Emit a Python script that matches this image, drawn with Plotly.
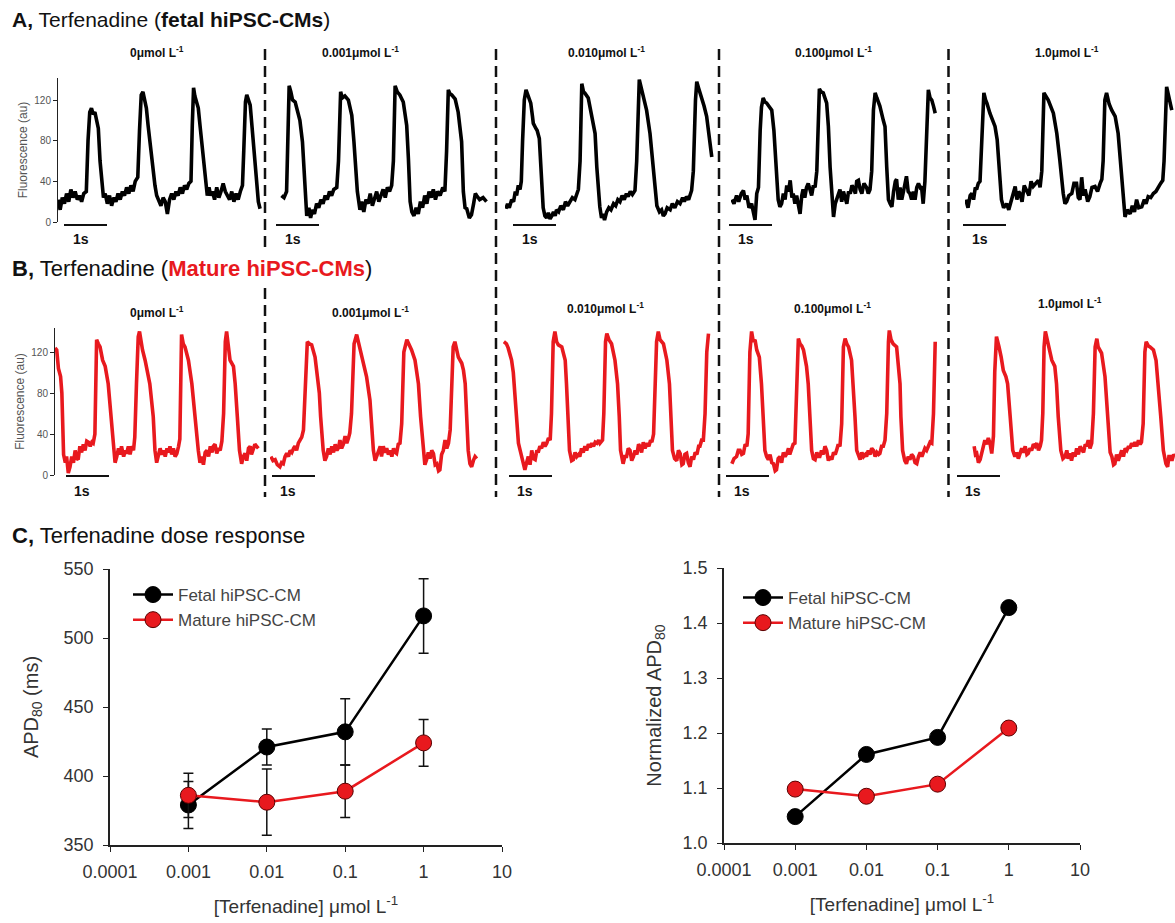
import plotly.graph_objects as go

W, H = 1175, 923

# ---------------- Panel A: fetal hiPSC-CM optical APs (time s, fluorescence au) ----------------
FETAL_0 = [(0.00,22),(0.05,12),(0.10,24),(0.15,18),(0.20,28),(0.25,20),(0.30,32),(0.35,24),(0.40,30),(0.45,22),
           (0.50,26),(0.55,20),(0.60,28),(0.66,30),(0.70,80),(0.74,108),(0.78,112),(0.82,106),(0.86,108),(0.90,100),
           (0.94,92),(0.98,60),(1.02,36),(1.06,24),(1.10,28),(1.15,18),(1.20,26),(1.25,16),(1.30,24),(1.35,20),
           (1.40,28),(1.45,22),(1.50,30),(1.55,26),(1.60,34),(1.65,28),(1.70,36),(1.75,30),(1.80,40),(1.86,44),
           (1.90,90),(1.94,125),(1.98,128),(2.02,118),(2.06,112),(2.10,95),(2.14,79),(2.18,60),(2.22,45),(2.26,36),
           (2.30,26),(2.35,20),(2.40,16),(2.45,24),(2.50,20),(2.55,8),(2.60,22),(2.65,28),(2.70,22),(2.75,30),
           (2.80,26),(2.85,34),(2.90,28),(2.95,36),(3.00,32),(3.05,38),(3.10,40),(3.13,95),(3.16,132),(3.19,124),
           (3.23,118),(3.27,112),(3.31,95),(3.35,79),(3.40,55),(3.44,38),(3.48,26),(3.52,34),(3.56,26),(3.60,30),
           (3.65,22),(3.70,34),(3.75,24),(3.80,30),(3.85,38),(3.90,30),(3.95,26),(4.00,22),(4.05,30),(4.10,20),
           (4.15,28),(4.20,22),(4.25,30),(4.30,36),(4.33,70),(4.37,118),(4.40,125),(4.44,120),(4.48,115),(4.52,95),
           (4.55,79),(4.59,55),(4.63,33),(4.67,20),(4.71,13)]
FETAL_0001 = [(0.08,26),(0.14,24),(0.20,30),(0.22,60),(0.26,134),(0.30,128),(0.34,120),(0.40,118),(0.44,112),(0.51,100),
              (0.57,79),(0.61,50),(0.64,20),(0.67,6),(0.72,14),(0.76,4),(0.80,12),(0.85,8),(0.90,18),(0.95,14),
              (1.00,22),(1.05,18),(1.10,26),(1.15,22),(1.20,30),(1.25,26),(1.30,32),(1.37,34),(1.41,60),(1.46,128),
              (1.50,122),(1.56,124),(1.64,120),(1.72,105),(1.77,79),(1.81,50),(1.85,30),(1.91,12),(1.95,20),(2.00,10),
              (2.05,22),(2.10,18),(2.15,28),(2.20,16),(2.25,22),(2.30,30),(2.35,20),(2.40,26),(2.45,32),(2.50,24),
              (2.55,34),(2.60,30),(2.65,36),(2.69,60),(2.73,134),(2.78,128),(2.84,125),(2.92,118),(3.00,95),(3.04,62),
              (3.08,20),(3.12,10),(3.17,6),(3.22,14),(3.27,8),(3.32,20),(3.37,14),(3.42,26),(3.47,18),(3.52,30),
              (3.57,24),(3.62,32),(3.67,22),(3.72,30),(3.78,26),(3.84,34),(3.89,30),(3.93,70),(3.97,130),(4.01,126),
              (4.05,125),(4.13,121),(4.20,108),(4.28,79),(4.32,30),(4.36,14),(4.40,13),(4.46,4),(4.51,7),(4.56,18),
              (4.60,28),(4.63,26),(4.70,22),(4.78,24),(4.86,20)]
FETAL_001 = [(0.02,13),(0.06,18),(0.10,14),(0.155,22),(0.20,20),(0.24,30),(0.27,26),(0.31,36),(0.35,32),(0.38,40),
             (0.41,80),(0.45,120),(0.49,130),(0.54,124),(0.60,117),(0.64,104),(0.66,97),(0.72,92),(0.75,90),(0.80,82),
             (0.83,54),(0.86,30),(0.89,14),(0.93,6),(0.97,4),(1.01,9),(1.05,3),(1.09,6),(1.13,10),(1.17,6),
             (1.20,12),(1.25,10),(1.30,16),(1.36,12),(1.41,20),(1.46,16),(1.52,20),(1.57,24),(1.63,22),(1.67,28),
             (1.71,32),(1.75,60),(1.79,136),(1.83,128),(1.86,127),(1.94,122),(2.02,104),(2.10,87),(2.14,54),(2.18,30),
             (2.21,15),(2.25,4),(2.28,8),(2.32,2),(2.37,10),(2.42,14),(2.47,12),(2.53,18),(2.58,16),(2.63,22),
             (2.68,20),(2.73,26),(2.78,22),(2.83,28),(2.87,25),(2.92,30),(2.97,27),(3.03,31),(3.07,60),(3.13,140),
             (3.17,132),(3.21,127),(3.30,110),(3.38,87),(3.46,54),(3.50,30),(3.54,16),(3.60,10),(3.65,12),(3.69,6),
             (3.73,8),(3.78,14),(3.85,12),(3.90,18),(3.96,14),(4.02,20),(4.08,18),(4.14,24),(4.18,20),(4.23,25),
             (4.28,22),(4.35,31),(4.39,50),(4.44,120),(4.47,138),(4.51,132),(4.55,127),(4.60,120),(4.64,114),(4.70,104),
             (4.76,87),(4.82,64)]
FETAL_01 = [(0.02,22),(0.07,18),(0.13,26),(0.18,20),(0.24,28),(0.29,31),(0.33,22),(0.37,26),(0.42,14),(0.48,18),
            (0.52,10),(0.56,2),(0.60,28),(0.64,34),(0.68,90),(0.71,113),(0.75,122),(0.79,118),(0.83,117),(0.90,112),
            (0.95,110),(1.00,90),(1.05,54),(1.10,22),(1.14,15),(1.18,18),(1.22,28),(1.26,22),(1.30,36),(1.34,30),
            (1.38,41),(1.42,24),(1.45,28),(1.49,18),(1.53,26),(1.57,14),(1.61,8),(1.65,26),(1.68,32),(1.72,24),
            (1.76,34),(1.80,38),(1.84,30),(1.88,26),(1.92,36),(1.96,34),(2.00,50),(2.06,131),(2.10,128),(2.15,127),
            (2.23,117),(2.27,94),(2.31,54),(2.35,22),(2.39,5),(2.43,18),(2.47,24),(2.50,26),(2.54,32),(2.58,20),
            (2.62,30),(2.66,24),(2.70,18),(2.74,30),(2.78,28),(2.82,36),(2.85,34),(2.90,28),(2.93,40),(2.97,41),
            (3.01,32),(3.05,28),(3.10,38),(3.16,34),(3.20,28),(3.24,32),(3.28,50),(3.32,110),(3.36,127),(3.40,122),
            (3.47,114),(3.55,100),(3.59,94),(3.63,54),(3.67,22),(3.71,18),(3.75,15),(3.79,30),(3.83,40),(3.86,42),
            (3.90,22),(3.94,34),(3.98,22),(4.02,30),(4.06,40),(4.09,45),(4.13,30),(4.17,28),(4.21,22),(4.25,30),
            (4.29,22),(4.33,34),(4.37,38),(4.41,34),(4.44,35),(4.48,18),(4.52,40),(4.55,70),(4.60,130),(4.64,122),
            (4.68,120),(4.72,114),(4.76,107)]
FETAL_1 = [(0.02,22),(0.07,14),(0.12,26),(0.16,28),(0.20,22),(0.24,34),(0.27,32),(0.31,38),(0.35,40),(0.40,100),
           (0.44,127),(0.48,120),(0.51,117),(0.58,107),(0.64,100),(0.70,94),(0.75,81),(0.80,54),(0.85,22),(0.90,14),
           (0.97,18),(1.02,12),(1.09,22),(1.13,28),(1.17,35),(1.21,22),(1.25,30),(1.28,28),(1.33,20),(1.38,36),
           (1.44,31),(1.49,26),(1.54,40),(1.59,35),(1.65,38),(1.71,41),(1.75,34),(1.79,50),(1.84,127),(1.90,122),
           (1.94,120),(2.06,107),(2.14,87),(2.21,61),(2.25,40),(2.29,28),(2.33,18),(2.37,20),(2.42,26),(2.49,28),
           (2.54,38),(2.60,38),(2.64,24),(2.68,22),(2.72,44),(2.76,26),(2.80,32),(2.86,20),(2.91,25),(2.96,34),
           (3.03,35),(3.09,30),(3.15,38),(3.19,42),(3.22,60),(3.26,120),(3.30,127),(3.36,116),(3.42,110),(3.50,104),
           (3.57,87),(3.63,54),(3.68,22),(3.73,5),(3.78,12),(3.85,8),(3.90,16),(3.95,10),(4.00,22),(4.05,14),
           (4.12,15),(4.18,22),(4.22,18),(4.27,25),(4.33,24),(4.39,28),(4.45,30),(4.51,35),(4.56,38),(4.61,41),
           (4.64,60),(4.70,133),(4.74,124),(4.79,114),(4.82,110)]

# ---------------- Panel B: mature hiPSC-CM optical APs ----------------
MATURE_0 = [(0.00,124),(0.04,122),(0.08,104),(0.13,96),(0.16,80),(0.18,57),(0.20,20),(0.24,12),(0.27,18),(0.31,2),
            (0.35,8),(0.39,18),(0.43,12),(0.47,24),(0.51,16),(0.54,15),(0.58,28),(0.62,22),(0.66,30),(0.70,24),
            (0.74,33),(0.78,32),(0.82,28),(0.86,32),(0.89,31),(0.93,40),(0.97,132),(1.01,128),(1.05,125),(1.11,112),
            (1.17,106),(1.24,89),(1.30,57),(1.36,24),(1.40,12),(1.44,18),(1.48,26),(1.52,20),(1.55,28),(1.60,18),
            (1.64,24),(1.67,21),(1.71,28),(1.75,20),(1.79,28),(1.83,24),(1.86,37),(1.90,90),(1.94,135),(1.97,140),
            (2.00,130),(2.04,122),(2.10,112),(2.21,89),(2.29,57),(2.33,24),(2.37,12),(2.41,18),(2.45,26),(2.49,20),
            (2.53,24),(2.57,18),(2.61,26),(2.65,22),(2.68,28),(2.72,20),(2.76,26),(2.80,18),(2.84,21),(2.88,28),
            (2.91,35),(2.95,137),(2.99,128),(3.03,125),(3.11,112),(3.19,89),(3.26,57),(3.34,24),(3.38,12),(3.42,18),
            (3.46,10),(3.50,22),(3.54,24),(3.58,18),(3.62,28),(3.66,22),(3.69,28),(3.73,30),(3.77,21),(3.81,26),
            (3.85,24),(3.89,33),(3.93,60),(3.97,130),(4.00,140),(4.04,128),(4.08,112),(4.16,106),(4.20,89),(4.25,57),
            (4.30,24),(4.35,11),(4.39,18),(4.43,21),(4.47,14),(4.51,26),(4.55,28),(4.58,20),(4.62,24),(4.66,30),
            (4.70,28),(4.74,26)]
MATURE_0001 = [(0.02,18),(0.07,14),(0.12,15),(0.17,10),(0.23,8),(0.27,12),(0.31,11),(0.35,18),(0.39,21),(0.43,18),
               (0.47,24),(0.51,22),(0.55,26),(0.58,28),(0.62,24),(0.66,31),(0.70,34),(0.74,37),(0.78,44),(0.81,80),
               (0.85,128),(0.87,130),(0.92,128),(0.97,127),(1.05,115),(1.10,100),(1.15,80),(1.18,57),(1.24,24),(1.28,14),
               (1.32,18),(1.36,26),(1.40,20),(1.44,28),(1.48,22),(1.52,30),(1.56,24),(1.60,27),(1.63,34),(1.67,26),
               (1.71,30),(1.75,38),(1.79,31),(1.83,36),(1.86,41),(1.90,60),(1.96,128),(2.02,137),(2.06,130),(2.10,125),
               (2.18,112),(2.25,96),(2.33,73),(2.37,50),(2.41,24),(2.45,14),(2.49,18),(2.53,22),(2.57,28),(2.60,18),
               (2.64,28),(2.68,22),(2.72,26),(2.76,20),(2.80,24),(2.84,18),(2.88,26),(2.92,22),(2.95,21),(2.99,30),
               (3.03,31),(3.07,50),(3.12,120),(3.19,132),(3.24,128),(3.30,122),(3.38,112),(3.46,89),(3.51,57),(3.57,24),
               (3.61,10),(3.65,15),(3.69,22),(3.73,16),(3.77,24),(3.81,21),(3.85,10),(3.89,11),(3.93,4),(3.96,5),
               (4.00,20),(4.04,24),(4.08,34),(4.12,26),(4.16,31),(4.20,44),(4.23,80),(4.27,125),(4.31,130),(4.35,122),
               (4.39,115),(4.47,109),(4.51,102),(4.55,89),(4.58,57),(4.62,24),(4.66,11),(4.70,8),(4.74,14),(4.78,18),
               (4.82,16)]
MATURE_001 = [(0.02,130),(0.08,128),(0.12,124),(0.16,118),(0.20,112),(0.24,100),(0.28,80),(0.32,57),(0.36,31),(0.40,24),
              (0.44,18),(0.47,14),(0.51,5),(0.55,12),(0.59,18),(0.63,10),(0.67,24),(0.71,16),(0.75,15),(0.79,24),
              (0.82,22),(0.86,28),(0.90,26),(0.94,32),(0.98,28),(1.02,31),(1.06,36),(1.10,34),(1.13,60),(1.17,130),
              (1.21,140),(1.25,130),(1.29,127),(1.37,125),(1.45,112),(1.48,89),(1.51,57),(1.55,24),(1.60,14),(1.64,15),
              (1.68,22),(1.72,18),(1.76,20),(1.79,18),(1.83,26),(1.87,22),(1.91,28),(1.95,24),(1.99,30),(2.03,27),
              (2.07,31),(2.11,28),(2.15,32),(2.19,31),(2.23,34),(2.26,31),(2.32,34),(2.35,60),(2.39,130),(2.42,138),
              (2.47,132),(2.53,128),(2.61,112),(2.67,89),(2.71,57),(2.74,24),(2.80,11),(2.84,18),(2.88,18),(2.92,26),
              (2.96,24),(3.00,14),(3.04,18),(3.08,24),(3.12,20),(3.16,30),(3.19,28),(3.23,22),(3.27,32),(3.31,26),
              (3.35,31),(3.40,28),(3.44,34),(3.47,32),(3.51,40),(3.54,70),(3.58,130),(3.62,140),(3.66,132),(3.74,128),
              (3.82,112),(3.88,89),(3.91,57),(3.95,24),(4.00,16),(4.05,14),(4.09,24),(4.13,21),(4.17,10),(4.20,11),
              (4.24,20),(4.28,21),(4.32,12),(4.36,8),(4.40,18),(4.44,15),(4.48,22),(4.52,20),(4.56,28),(4.59,28),
              (4.63,34),(4.67,34),(4.71,60),(4.75,120),(4.79,138)]
MATURE_01 = [(0.09,11),(0.14,16),(0.20,18),(0.24,24),(0.28,24),(0.32,20),(0.36,21),(0.40,30),(0.44,28),(0.47,40),
             (0.51,120),(0.55,140),(0.59,130),(0.63,132),(0.67,122),(0.73,115),(0.78,89),(0.82,57),(0.86,24),(0.90,18),
             (0.94,15),(0.98,20),(1.02,12),(1.06,11),(1.10,4),(1.13,5),(1.17,16),(1.21,18),(1.25,12),(1.29,22),
             (1.33,18),(1.37,21),(1.41,26),(1.44,20),(1.48,24),(1.52,30),(1.56,31),(1.60,80),(1.64,133),(1.68,128),
             (1.72,126),(1.76,122),(1.83,106),(1.87,89),(1.91,57),(1.95,24),(1.99,16),(2.03,15),(2.07,22),(2.11,18),
             (2.14,18),(2.18,24),(2.22,20),(2.26,28),(2.30,24),(2.34,14),(2.38,18),(2.42,15),(2.46,22),(2.50,20),
             (2.53,24),(2.57,30),(2.61,28),(2.65,50),(2.69,125),(2.73,133),(2.77,128),(2.81,125),(2.88,112),(2.92,89),
             (2.96,57),(3.00,24),(3.04,18),(3.08,15),(3.12,22),(3.16,18),(3.20,20),(3.23,18),(3.27,24),(3.31,20),
             (3.35,26),(3.39,24),(3.43,18),(3.47,22),(3.51,20),(3.54,21),(3.58,28),(3.62,28),(3.66,34),(3.70,60),
             (3.74,130),(3.76,141),(3.80,132),(3.85,128),(3.93,125),(3.97,109),(4.01,89),(4.03,57),(4.07,24),(4.12,14),
             (4.16,11),(4.20,18),(4.24,15),(4.28,20),(4.32,18),(4.36,12),(4.40,11),(4.44,18),(4.48,22),(4.52,18),
             (4.55,21),(4.59,26),(4.63,24),(4.67,28),(4.71,32),(4.75,31),(4.79,60),(4.83,130)]
MATURE_1 = [(0.12,28),(0.15,20),(0.18,21),(0.22,12),(0.26,15),(0.29,20),(0.32,24),(0.35,28),(0.37,34),(0.41,30),
            (0.45,36),(0.49,31),(0.53,21),(0.57,38),(0.60,100),(0.64,135),(0.67,128),(0.70,125),(0.75,115),(0.80,102),
            (0.86,96),(0.90,89),(0.96,57),(1.02,24),(1.07,18),(1.11,22),(1.15,16),(1.19,21),(1.23,26),(1.27,22),
            (1.31,28),(1.35,20),(1.38,21),(1.42,26),(1.46,24),(1.50,30),(1.54,28),(1.58,31),(1.62,24),(1.66,28),
            (1.69,34),(1.72,60),(1.75,125),(1.78,140),(1.82,132),(1.85,128),(1.93,112),(2.00,106),(2.04,89),(2.08,57),
            (2.14,24),(2.19,16),(2.24,18),(2.28,24),(2.31,16),(2.35,21),(2.39,14),(2.43,22),(2.47,18),(2.51,26),
            (2.55,20),(2.59,28),(2.63,24),(2.67,22),(2.71,30),(2.74,28),(2.78,34),(2.82,26),(2.86,31),(2.90,60),
            (2.94,125),(2.98,133),(3.01,125),(3.09,119),(3.17,96),(3.21,73),(3.25,41),(3.29,22),(3.33,18),(3.37,10),
            (3.40,11),(3.44,20),(3.48,14),(3.52,18),(3.56,24),(3.60,18),(3.64,26),(3.68,24),(3.72,28),(3.75,26),
            (3.79,31),(3.83,28),(3.87,32),(3.91,28),(3.95,34),(3.99,30),(4.02,32),(4.06,50),(4.10,120),(4.13,130),
            (4.18,126),(4.22,125),(4.30,122),(4.36,112),(4.41,89),(4.47,57),(4.53,24),(4.59,11),(4.63,8),(4.66,18),
            (4.69,18),(4.73,14),(4.77,20),(4.80,18)]

CONC_LABELS = ["0μmol L<sup>-1</sup>", "0.001μmol L<sup>-1</sup>", "0.010μmol L<sup>-1</sup>",
               "0.100μmol L<sup>-1</sup>", "1.0μmol L<sup>-1</sup>"]
FLUO_TICKS = [0, 40, 80, 120]

# ---------------- Panel C: dose response ----------------
CONC = [0.001, 0.01, 0.1, 1]
FETAL_APD = [379, 421, 432, 516]
FETAL_APD_ERR = [17, 13, 24, 27]
MATURE_APD = [386, 381, 389, 424]
MATURE_APD_ERR = [16, 24, 19, 17]
FETAL_NORM = [1.048, 1.161, 1.192, 1.428]
MATURE_NORM = [1.098, 1.085, 1.107, 1.209]
X_TICKS = [0.0001, 0.001, 0.01, 0.1, 1, 10]
X_TICK_TEXT = ["0.0001", "0.001", "0.01", "0.1", "1", "10"]
APD_TICKS = [350, 400, 450, 500, 550]
NORM_TICKS = [1.0, 1.1, 1.2, 1.3, 1.4, 1.5]

BLACK = "#000000"
RED = "#e8191e"
FONT = "Liberation Sans, Arial, sans-serif"


def px(x):
    return x / W


def py(y):
    return 1 - y / H


fig = go.Figure()
layout = dict(width=W, height=H, margin=dict(l=0, r=0, t=0, b=0, autoexpand=False),
              paper_bgcolor="white", plot_bgcolor="white", hovermode=False,
              font=dict(family=FONT, color="#222"))

PX_PER_S = 42.9
rows = [
    dict(traces=[FETAL_0, FETAL_0001, FETAL_001, FETAL_01, FETAL_1], color=BLACK,
         starts=[58, 278, 505, 731, 965], ydom=(78, 222), pxu=1.0167),
    dict(traces=[MATURE_0, MATURE_0001, MATURE_001, MATURE_01, MATURE_1], color=RED,
         starts=[55, 270, 503, 728, 969], ydom=(328, 475), pxu=1.025),
]

n = 0
for r, row in enumerate(rows):
    for i, data in enumerate(row["traces"]):
        n += 1
        suf = "" if n == 1 else str(n)
        t = [p[0] for p in data]
        v = [p[1] for p in data]
        fig.add_trace(go.Scatter(x=t, y=v, mode="lines", line=dict(color=row["color"], width=3.6),
                                 xaxis="x" + suf, yaxis="y" + suf, showlegend=False))
        x0 = row["starts"][i]
        x1 = min(x0 + 210, W)
        yt, yb = row["ydom"]
        layout["xaxis" + suf] = dict(domain=[px(x0), px(x1)], range=[0, (x1 - x0) / PX_PER_S],
                                     visible=False, anchor="y" + suf, automargin=False)
        ya = dict(domain=[py(yb), py(yt)], range=[0, (yb - yt) / row["pxu"]], anchor="x" + suf,
                  automargin=False)
        if i == 0:
            ya.update(showline=True, linecolor="#222", linewidth=1, ticks="outside", ticklen=4,
                      tickcolor="#222", tickvals=FLUO_TICKS, showgrid=False, zeroline=False,
                      tickfont=dict(size=10, color="#555"),
                      title=dict(text="Fluorescence (au)", font=dict(size=12, color="#555"), standoff=4))
        else:
            ya.update(visible=False)
        layout["yaxis" + suf] = ya

# ---- Panel C axes ----
common_x = dict(type="log", range=[-4, 1], tickvals=X_TICKS, ticktext=X_TICK_TEXT, showline=True,
                linecolor="#222", linewidth=1.5, ticks="outside", ticklen=5, tickcolor="#222",
                showgrid=False, zeroline=False, tickfont=dict(size=18, color="#333"), ticklabelstandoff=5,
                automargin=False)
common_y = dict(showline=True, linecolor="#222", linewidth=1.5, ticks="outside", ticklen=5,
                tickcolor="#222", showgrid=False, zeroline=False, tickfont=dict(size=18, color="#333"),
                ticklabelstandoff=6, automargin=False)

layout["xaxis11"] = dict(common_x, domain=[px(110), px(502)], anchor="y11",
                         title=dict(text="[Terfenadine] μmol L<sup>-1</sup>", font=dict(size=19, color="#333"), standoff=18))
layout["yaxis11"] = dict(common_y, domain=[py(845), py(569)], range=[350, 550], tickvals=APD_TICKS, anchor="x11",
                         title=dict(text="APD<sub>80</sub> (ms)", font=dict(size=20, color="#333"), standoff=20))
layout["xaxis12"] = dict(common_x, domain=[px(724), px(1080)], anchor="y12",
                         title=dict(text="[Terfenadine] μmol L<sup>-1</sup>", font=dict(size=19, color="#333"), standoff=18))
layout["yaxis12"] = dict(common_y, domain=[py(843), py(568)], range=[1.0, 1.5], tickvals=NORM_TICKS,
                         tickformat=".1f", anchor="x12",
                         title=dict(text="Normalized APD<sub>80</sub>", font=dict(size=20, color="#333"), standoff=16))

err = dict(type="data", color="#111", thickness=1.5, width=5)
fig.add_trace(go.Scatter(x=CONC, y=FETAL_APD, mode="lines+markers", name="Fetal hiPSC-CM",
                         line=dict(color=BLACK, width=2.5),
                         marker=dict(size=16, color=BLACK, line=dict(color=BLACK, width=1)),
                         error_y=dict(err, array=FETAL_APD_ERR), xaxis="x11", yaxis="y11", legend="legend"))
fig.add_trace(go.Scatter(x=CONC, y=MATURE_APD, mode="lines+markers", name="Mature hiPSC-CM",
                         line=dict(color=RED, width=2.5),
                         marker=dict(size=16, color=RED, line=dict(color="#5a0000", width=1)),
                         error_y=dict(err, array=MATURE_APD_ERR), xaxis="x11", yaxis="y11", legend="legend"))
fig.add_trace(go.Scatter(x=CONC, y=FETAL_NORM, mode="lines+markers", name="Fetal hiPSC-CM",
                         line=dict(color=BLACK, width=2.5),
                         marker=dict(size=16, color=BLACK, line=dict(color=BLACK, width=1)),
                         xaxis="x12", yaxis="y12", legend="legend2"))
fig.add_trace(go.Scatter(x=CONC, y=MATURE_NORM, mode="lines+markers", name="Mature hiPSC-CM",
                         line=dict(color=RED, width=2.5),
                         marker=dict(size=16, color=RED, line=dict(color="#5a0000", width=1)),
                         xaxis="x12", yaxis="y12", legend="legend2"))

leg = dict(font=dict(size=17, color="#444"), bgcolor="rgba(0,0,0,0)", xanchor="left", yanchor="top",
           tracegroupgap=0, itemwidth=40)
layout["legend"] = dict(leg, x=px(128), y=py(577))
layout["legend2"] = dict(leg, x=px(738), y=py(580))

# ---- text annotations ----
ann = []


def text(x, y, s, size, color="#111", xanchor="center", **kw):
    ann.append(dict(x=px(x), y=py(y), xref="paper", yref="paper", text=s, showarrow=False,
                    xanchor=xanchor, yanchor="middle", font=dict(size=size, color=color, family=FONT), **kw))


text(10, 19, "<b>A,</b> Terfenadine (<b>fetal hiPSC-CMs</b>)", 21, xanchor="left")
text(10, 268, "<b>B,</b> Terfenadine (<b><span style='color:%s'>Mature hiPSC-CMs</span></b>)" % RED, 22,
     xanchor="left")
text(10, 535, "<b>C,</b> Terfenadine dose response", 22, xanchor="left")

lab_a = [(157, 52), (360, 52), (607, 52), (833, 52), (1067, 52)]
lab_b = [(157, 312), (370, 312), (605, 308), (832, 308), (1070, 303)]
for i, s in enumerate(CONC_LABELS):
    text(lab_a[i][0], lab_a[i][1], "<b>" + s + "</b>", 12)
    text(lab_b[i][0], lab_b[i][1], "<b>" + s + "</b>", 12)

shapes = []
bars_a = [64, 276, 513, 729, 963]
bars_b = [66, 272, 509, 726, 957]
for b in bars_a:
    shapes.append(dict(type="line", xref="paper", yref="paper", x0=px(b), x1=px(b + 43), y0=py(225), y1=py(225),
                       line=dict(color="#111", width=2)))
    text(b + 17, 239, "<b>1s</b>", 14)
for b in bars_b:
    shapes.append(dict(type="line", xref="paper", yref="paper", x0=px(b), x1=px(b + 43), y0=py(476), y1=py(476),
                       line=dict(color="#111", width=2)))
    text(b + 16, 491, "<b>1s</b>", 14)

dash = dict(color="#111", width=2.5, dash="11px,6px")
for (x, y0, y1) in [(265, 49, 252), (265, 288, 497), (496, 49, 497), (719, 49, 497), (948.5, 49, 497)]:
    shapes.append(dict(type="line", xref="paper", yref="paper", x0=px(x), x1=px(x), y0=py(y0), y1=py(y1),
                       line=dash))

layout["annotations"] = ann
layout["shapes"] = shapes
fig.update_layout(**layout)
fig.write_html("out.html")
